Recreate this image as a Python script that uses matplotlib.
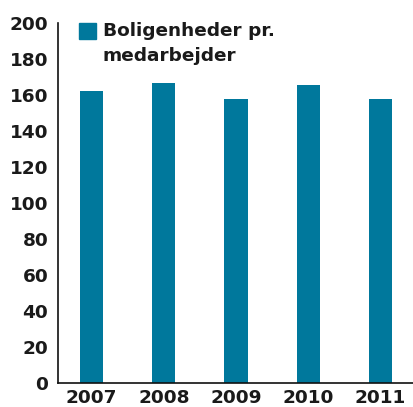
import matplotlib.pyplot as plt
from matplotlib.patches import Rectangle

years = ["2007", "2008", "2009", "2010", "2011"]
units_per_employee = [162.5, 166.5, 158, 165.5, 158]
yticks = [0, 20, 40, 60, 80, 100, 120, 140, 160, 180, 200]
label = "Boligenheder pr.\nmedarbejder"

bar_color = "#00789c"
text_color = "#1a1a1a"

plt.rcParams['font.family'] = ['DejaVu Sans']
plt.rcParams['font.weight'] = 'bold'

fig = plt.figure(figsize=(4.13, 4.07), dpi=100)
ax = fig.add_axes([58/413, 24/407, 355/413, 360/407])

x = range(len(years))
ax.bar(x, units_per_employee, width=0.32, color=bar_color)

ax.set_xlim(-0.465, 4.45)
ax.set_ylim(0, 200)
ax.set_xticks(list(x))
ax.set_xticklabels(years)
ax.set_yticks(yticks)
ax.tick_params(length=0, labelsize=13.3, colors=text_color, pad=7)
ax.tick_params(axis='x', pad=4)

for s in ["top", "right"]:
    ax.spines[s].set_visible(False)
for s in ["left", "bottom"]:
    ax.spines[s].set_color("#111111")
    ax.spines[s].set_linewidth(1.2)

# legend drawn by hand so the square sits on the first line
ax.add_patch(Rectangle((21/355, 1 - 16/360), 17/355, 16/360,
                       transform=ax.transAxes, color=bar_color, clip_on=False))
ax.text(45/355, 1 + 1/360, label, transform=ax.transAxes, va='top', ha='left',
        fontsize=13.3, color=text_color, linespacing=1.5)

fig.savefig("out.png", dpi=100)
